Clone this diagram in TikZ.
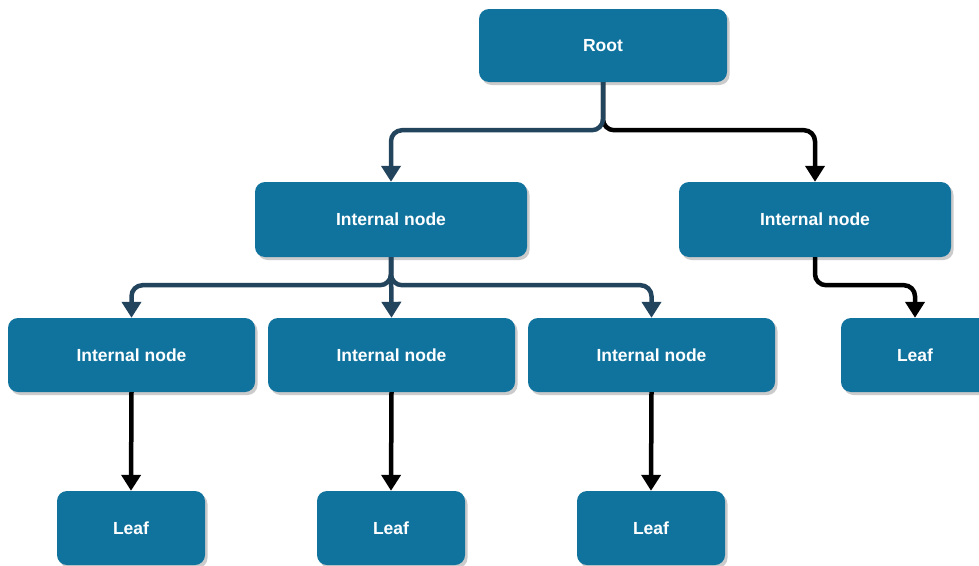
\documentclass[tikz,border=0pt]{standalone}
\usepackage{fontspec}
\setmainfont{Liberation Sans}
\usetikzlibrary{arrows.meta,shadows}
\definecolor{boxfill}{HTML}{10739E}
\definecolor{darkarrow}{HTML}{23445D}
\begin{document}
\begin{tikzpicture}[x=1pt,y=-1pt,
  box/.style={draw=none, fill=boxfill, rounded corners=10pt, text=white,
    font=\fontsize{17.5}{20}\selectfont\bfseries,
    drop shadow={shadow xshift=2.5pt, shadow yshift=-3pt, fill=black!25, opacity=0.8}},
  wide/.style={box, minimum width=272pt, minimum height=75pt},
  mid/.style={box, minimum width=247pt, minimum height=74pt},
  leafbox/.style={box, minimum width=148pt, minimum height=74pt},
  conn/.style={line width=4.5pt, rounded corners=11pt,
    -{Triangle[width=19pt,length=16pt]}},
  blueconn/.style={conn, draw=darkarrow},
  blackconn/.style={conn, draw=black}]
\clip (0,0) rectangle (979,565);
\fill[white] (0,0) rectangle (979,565);
\node[box, minimum width=248pt, minimum height=73pt] (root) at (603,45.5) {Root};
\node[wide] (in1) at (391,219.5) {Internal node};
\node[wide] (in2) at (815,219.5) {Internal node};
\node[mid] (in3) at (131.5,355) {Internal node};
\node[mid] (in4) at (391.5,355) {Internal node};
\node[mid] (in5) at (651.5,355) {Internal node};
\node[leafbox] (leaf4) at (915,355) {Leaf};
\node[leafbox] (leaf1) at (131,528) {Leaf};
\node[leafbox] (leaf2) at (391,528) {Leaf};
\node[leafbox] (leaf3) at (651,528) {Leaf};
% root branches
\draw[blackconn] (root.south) -- ++(0,48) -| (in2.north);
\draw[blueconn] (root.south) -- ++(0,48) -| (in1.north);
% internal node 1 branches
\draw[blueconn] (in1.south) -- ++(0,28) -| (in3.north);
\draw[blueconn] (in1.south) -- ++(0,28) -| (in5.north);
\draw[blueconn] (in1.south) -- (in4.north);
% internal node 2 to leaf
\draw[blackconn] (in2.south) -- ++(0,28) -| (leaf4.north);
% internal nodes to leaves
\draw[blackconn] (in3.south) -- (leaf1.north);
\draw[blackconn] (in4.south) -- (leaf2.north);
\draw[blackconn] (in5.south) -- (leaf3.north);
\end{tikzpicture}
\end{document}
